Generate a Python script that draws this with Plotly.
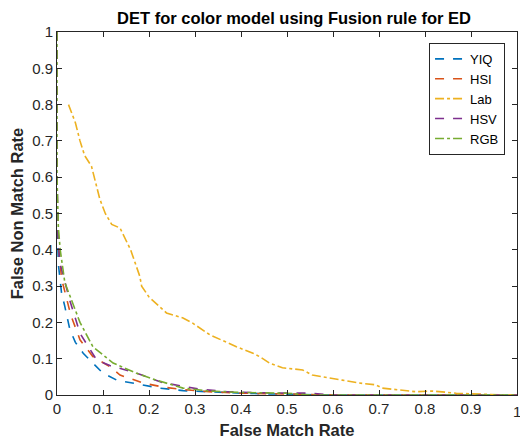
import plotly.graph_objects as go

names = ["YIQ", "HSI", "Lab", "HSV", "RGB"]
colors = ["#0072BD", "#D95319", "#EDB120", "#7E2F8E", "#77AC30"]
dashes = ["dash", "dash", "dashdot", "dash", "dashdot"]

yiq_x = [0, 0, 0.003, 0.01, 0.017, 0.028, 0.04, 0.057, 0.078, 0.1, 0.13, 0.165, 0.223, 0.274, 0.33, 0.4, 0.5, 0.6, 1.0]
yiq_y = [1, 0.5, 0.36, 0.28, 0.244, 0.18, 0.145, 0.115, 0.088, 0.06, 0.041, 0.032, 0.019, 0.012, 0.008, 0.005, 0.002, 0, 0]

hsi_x = [0, 0, 0.004, 0.01, 0.03, 0.05, 0.078, 0.115, 0.137, 0.187, 0.23, 0.274, 0.33, 0.4, 0.5, 0.6, 1.0]
hsi_y = [1, 0.55, 0.4, 0.32, 0.22, 0.152, 0.106, 0.078, 0.055, 0.033, 0.022, 0.015, 0.009, 0.005, 0.003, 0, 0]

lab_x = [0.025, 0.04, 0.05, 0.06, 0.075, 0.093, 0.105, 0.119, 0.137, 0.16, 0.18, 0.184, 0.2, 0.238, 0.274, 0.295, 0.332, 0.39, 0.426, 0.44, 0.462, 0.49, 0.534, 0.555, 0.62, 0.657, 0.693, 0.707, 0.78, 0.816, 0.868, 0.9, 0.97, 1.0]
lab_y = [0.8, 0.75, 0.7, 0.66, 0.63, 0.54, 0.5, 0.47, 0.46, 0.4, 0.327, 0.3, 0.27, 0.226, 0.212, 0.198, 0.166, 0.133, 0.115, 0.106, 0.088, 0.075, 0.069, 0.055, 0.041, 0.033, 0.028, 0.019, 0.009, 0.011, 0.005, 0.003, 0.0, 0.0]

hsv_x = [0, 0, 0.003, 0.007, 0.028, 0.05, 0.086, 0.115, 0.173, 0.23, 0.31, 0.37, 0.45, 0.55, 0.6, 1.0]
hsv_y = [1, 0.6, 0.42, 0.36, 0.26, 0.17, 0.097, 0.081, 0.06, 0.034, 0.016, 0.009, 0.006, 0.005, 0, 0]

rgb_x = [0, 0, 0.003, 0.007, 0.017, 0.05, 0.078, 0.122, 0.173, 0.216, 0.274, 0.33, 0.4, 0.5, 0.55, 1.0]
rgb_y = [1, 0.6, 0.46, 0.4, 0.31, 0.2, 0.133, 0.088, 0.06, 0.041, 0.019, 0.011, 0.007, 0.005, 0, 0]

xs = [yiq_x, hsi_x, lab_x, hsv_x, rgb_x]
ys = [yiq_y, hsi_y, lab_y, hsv_y, rgb_y]

tick_vals = [0, 0.1, 0.2, 0.3, 0.4, 0.5, 0.6, 0.7, 0.8, 0.9, 1]
tick_text = ["0", "0.1", "0.2", "0.3", "0.4", "0.5", "0.6", "0.7", "0.8", "0.9", "1"]

fig = go.Figure()
for n, c, d, x, y in zip(names, colors, dashes, xs, ys):
    fig.add_trace(go.Scatter(x=x, y=y, mode="lines", name=n,
                             line=dict(color=c, dash=d, width=1.6)))

axis_common = dict(range=[0, 1], tickvals=tick_vals, ticktext=tick_text,
                   ticks="inside", ticklen=5, tickcolor="#262626",
                   showline=True, linecolor="#262626", linewidth=1,
                   mirror="ticks", showgrid=False, zeroline=False,
                   automargin=False,
                   tickfont=dict(size=15, color="#262626"))

fig.update_layout(
    width=520, height=439,
    margin=dict(l=57, r=3, t=32, b=44),
    paper_bgcolor="white", plot_bgcolor="white",
    font=dict(family="Liberation Sans, Arial, sans-serif", color="#262626"),
    title=dict(text="<b>DET for color model using Fusion rule for ED</b>",
               x=294 / 520, xanchor="center", y=1 - 18 / 439, yanchor="middle",
               font=dict(size=16.5, color="black")),
    xaxis=dict(axis_common, title=dict(text="<b>False Match Rate</b>",
                                       font=dict(size=16.5, color="#262626"), standoff=8)),
    yaxis=dict(axis_common, title=dict(text="<b>False Non Match Rate</b>",
                                       font=dict(size=16.5, color="#262626"), standoff=4)),
    legend=dict(x=0.974, y=0.97, xanchor="right", yanchor="top",
                bordercolor="#262626", borderwidth=1, bgcolor="white",
                font=dict(size=13, color="black")),
    showlegend=True,
)

# the last x tick label sits at the edge of the figure; draw it explicitly
fig.update_xaxes(ticktext=tick_text[:-1] + [""])
fig.add_annotation(x=tick_vals[-1], y=0, xref="x", yref="paper", text=tick_text[-1],
                   showarrow=False, xanchor="center", yanchor="top", yshift=-6,
                   font=dict(size=15, color="#262626"))

fig.write_html("out.html", config={"displayModeBar": False},
               post_script="document.body.style.margin='0';document.body.style.padding='0';document.body.style.overflow='hidden';")
